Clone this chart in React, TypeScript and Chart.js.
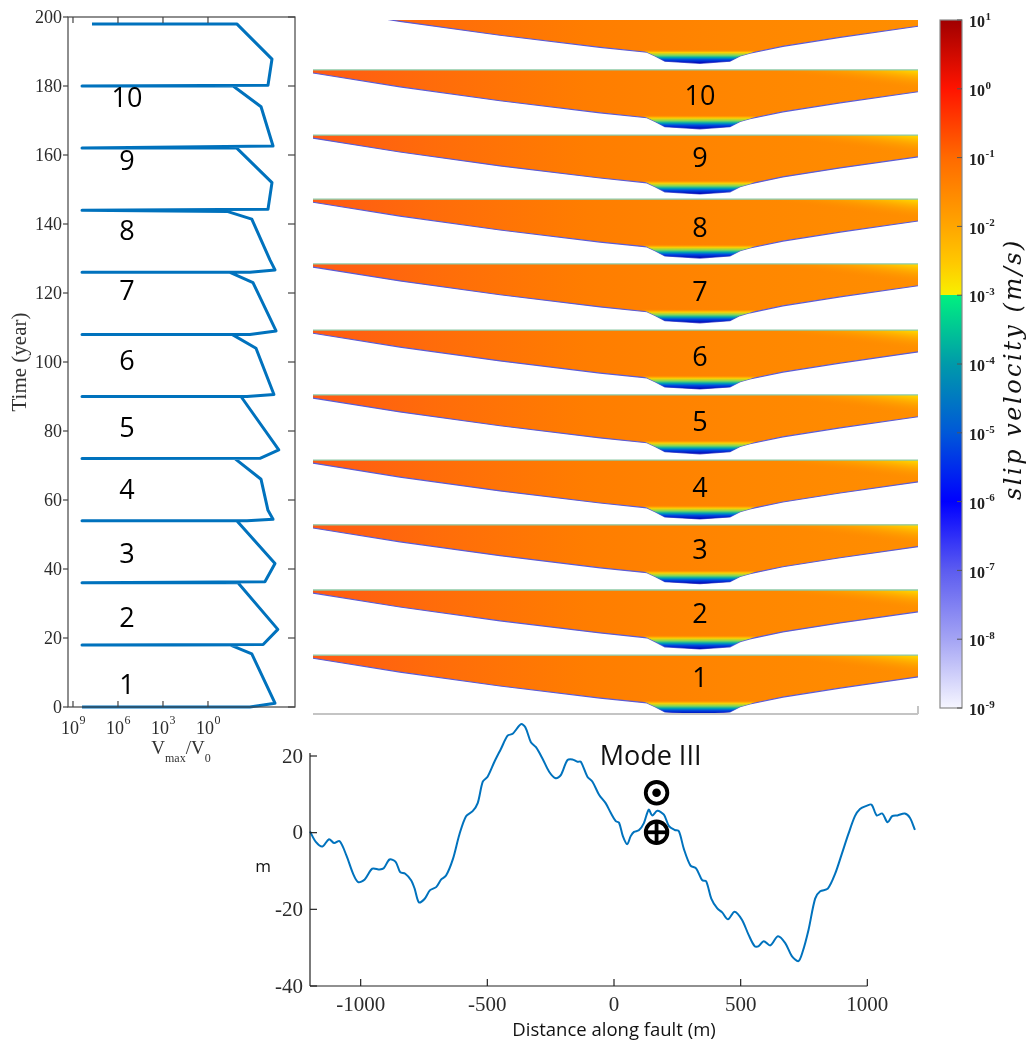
import { useEffect, useRef } from 'react';
import { Chart, registerables } from 'chart.js';

Chart.register(...registerables);

// ---------- left panel: maximum slip rate through the cycles ----------
const vmaxYears = [
  0, 0, 1.1, 15.4, 18, 18, 18.1, 22.5, 36, 36, 36.3, 41.6, 54, 54, 54, 54.4, 57, 66, 72, 72,
  72.1, 74.5, 90, 90, 90, 90.6, 104, 108, 108, 108, 109, 123, 126, 126, 126, 126.7, 129.6,
  141.4, 143.6, 144, 144.3, 152, 162, 162, 162.6, 174, 180, 180, 180.2, 187.8, 198, 198,
];
const vmaxRatio = [
  2.5e8, 1.6e-3, 3.4e-5, 1.2e-3, 3.4e-2, 2.5e8, 2.1e-4, 2.2e-5, 1.0e-2, 2.5e8, 1.6e-4, 3.4e-5,
  1.2e-2, 2.5e8, 2.5e-3, 4.6e-5, 1.0e-4, 2.9e-4, 1.6e-2, 2.5e8, 3.4e-4, 1.9e-5, 6.3e-3, 2.5e8,
  2.5e-3, 4.0e-5, 6.3e-4, 2.5e-2, 2.5e8, 1.6e-3, 2.9e-5, 1.0e-3, 3.4e-2, 2.5e8, 1.6e-3, 3.4e-5,
  7.4e-5, 1.2e-3, 4.7e-2, 2.5e8, 1.0e-4, 5.4e-5, 1.2e-2, 2.5e8, 4.6e-5, 2.9e-4, 2.1e-2, 2.5e8,
  1.0e-4, 5.4e-5, 1.2e-2, 5.4e7,
];
const timeTicks = [0, 20, 40, 60, 80, 100, 120, 140, 160, 180, 200];
const vmaxTickExponents = [9, 6, 3, 0];
const cycleNames = ['1', '2', '3', '4', '5', '6', '7', '8', '9', '10'];
const cycleLabelYears = [5.9, 25.5, 44, 62.4, 80.6, 100, 120.3, 137.5, 158, 176];
const cycleLabelRatio = 2.5e5;

// ---------- middle panel: slip velocity snapshots along the fault ----------
const frontX = [-1200, -855, -458, -61, 125, 157, 196, 335, 454, 494, 533, 664, 891, 1200];
const frontDepth = [0.9, 4.9, 8.9, 12.4, 13.8, 14.9, 16.4, 17.0, 16.4, 14.9, 14.1, 12.1, 9.5, 6.3];
const lensX = [100, 560, 533, 494, 454, 335, 196, 157, 125];
const lensDepth = [13.0, 13.3, 14.1, 14.9, 16.4, 17.0, 16.4, 14.9, 13.8];
const glowX = [560, 1200, 1200];
const glowDepth = [0, 0, 6.0];
const cycleTop = [16.7, 35.5, 54.3, 73.0, 91.8, 110.5, 129.6, 148.3, 166.8, 185.6, 204.5];
const snapshotLabelYears = [9.8, 28.2, 46.6, 64.7, 83.6, 102.3, 121, 139.7, 159.8, 177.6];
const snapshotLabelX = 335;

// ---------- colour bar: slip velocity (m/s) ----------
const velocityTickExponents = [1, 0, -1, -2, -3, -4, -5, -6, -7, -8, -9];
const colormapValues = [1e-9, 1e-8, 1e-7, 1e-6, 1e-5, 1e-4, 0.00099, 0.001, 0.003, 1e-2, 1e-1, 1, 10];
const colormapColors = [
  '#f6f6ff', '#a4a4f4', '#5c5cf0', '#0000ff', '#0058d8', '#009aaa', '#00f080',
  '#f8f000', '#ffc800', '#ffa600', '#ff6a00', '#ff1400', '#a00000',
];

// ---------- bottom panel: fault trace ----------
const faultDist = [
  -1200, -1177, -1151, -1125, -1105, -1083, -1056, -1030, -1010, -984, -954, -925, -909, -886,
  -862, -844, -824, -801, -787, -770, -748, -726, -702, -682, -663, -636, -610, -584, -558,
  -538, -518, -499, -472, -446, -420, -400, -367, -350, -328, -308, -282, -256, -230, -210,
  -184, -164, -144, -131, -105, -85, -59, -33, -13, 7, 20, 35, 52, 66, 79, 98, 118, 137, 151,
  171, 197, 217, 240, 256, 276, 302, 324, 348, 364, 384, 407, 427, 450, 476, 505, 531, 555,
  571, 591, 617, 647, 676, 702, 728, 744, 768, 794, 814, 844, 873, 899, 925, 951, 971, 997,
  1017, 1037, 1059, 1080, 1098, 1119, 1148, 1168, 1188,
];
const faultOffset = [
  0.3, -2.4, -3.6, -1.7, -2.7, -2.2, -6.0, -10.7, -12.9, -12.2, -9.4, -9.6, -9.3, -7.0,
  -7.6, -10.3, -10.7, -12.4, -14.6, -18.2, -17.3, -15.0, -14.2, -12.2, -11.2, -6.9, -0.4, 4.3, 5.6,
  7.7, 13.3, 14.6, 18.5, 21.9, 25.3, 25.8, 28.3, 27.5, 23.6, 22.3, 19.3, 15.9, 14.2, 15.0,
  18.9, 19.1, 18.5, 18.5, 14.6, 13.3, 9.9, 7.7, 5.2, 3.0, 2.6, -0.9, -3.0, -0.9, 0.2, 0.6, 2.5, 6.0, 4.5,
  5.7, 4.7, 1.7, 0.7, 0.4, -4.3, -8.6, -9.3, -12.4, -12.7, -17.2, -19.7, -20.8, -22.6, -20.6, -22.7, -26.6, -29.6,
  -29.6, -28.3, -29.4, -27.0, -28.8, -32.2, -33.5, -31.2, -25.3, -17.2, -15.3, -14.6, -10.7, -5.6, -0.4, 4.3, 6.2, 7.0,
  7.3, 4.5, 5.0, 2.7, 4.3, 4.5, 5.0, 3.9, 0.7,
];
const distTicks = [-1000, -500, 0, 500, 1000];
const offsetTicks = [20, 0, -20, -40];
const modeMarkX = 168;
const modeMarkOut = 10.4;
const modeMarkIn = 0.1;

const LINE_BLUE = '#0072bd';
const INK = '#2b2b2b';
const SERIF = '"Liberation Serif", "Times New Roman", serif';
const SANS = '"Open Sans", "Noto Sans", sans-serif';

function line(ctx: CanvasRenderingContext2D, x1: number, y1: number, x2: number, y2: number) {
  ctx.beginPath();
  ctx.moveTo(x1, y1);
  ctx.lineTo(x2, y2);
  ctx.stroke();
}

// "10" followed by a raised exponent
function drawPower(
  ctx: CanvasRenderingContext2D, exponent: string, x: number, y: number,
  baseFont: string, expFont: string, align: 'center' | 'left', rise: number,
) {
  ctx.font = baseFont;
  const wb = ctx.measureText('10').width;
  ctx.font = expFont;
  const we = ctx.measureText(exponent).width;
  const x0 = align === 'center' ? x - (wb + we) / 2 : x;
  ctx.textAlign = 'left';
  ctx.textBaseline = 'middle';
  ctx.font = baseFont;
  ctx.fillText('10', x0, y);
  ctx.font = expFont;
  ctx.fillText(exponent, x0 + wb + 0.5, y - rise);
}

const quiet = { legend: { display: false }, tooltip: { enabled: false } };

const leftDecor = {
  id: 'leftDecor',
  afterDraw(chart: any) {
    const { ctx, chartArea: a, scales } = chart;
    const { x, y } = scales;
    ctx.save();
    ctx.strokeStyle = '#444';
    ctx.lineWidth = 1.2;
    ctx.strokeRect(a.left, a.top, a.right - a.left, a.bottom - a.top);
    ctx.fillStyle = INK;
    for (const t of timeTicks) {
      const py = y.getPixelForValue(t);
      line(ctx, a.left - 5, py, a.left, py);
      line(ctx, a.right - 7, py, a.right, py);
      ctx.font = `18px ${SERIF}`;
      ctx.textAlign = 'right';
      ctx.textBaseline = 'middle';
      ctx.fillText(String(t), a.left - 6, py + 1);
    }
    for (const e of vmaxTickExponents) {
      const px = x.getPixelForValue(Math.pow(10, e));
      line(ctx, px, a.top, px, a.top + 6);
      line(ctx, px, a.bottom, px, a.bottom - 6);
      drawPower(ctx, String(e), px, 729, `18px ${SERIF}`, `12px ${SERIF}`, 'center', 8);
    }
    // axis titles
    ctx.save();
    ctx.translate(20, 362);
    ctx.rotate(-Math.PI / 2);
    ctx.font = `21px ${SERIF}`;
    ctx.textAlign = 'center';
    ctx.textBaseline = 'middle';
    ctx.fillStyle = '#333';
    ctx.fillText('Time (year)', 0, 0);
    ctx.restore();
    const parts: [string, string, number][] = [
      ['V', `19px ${SERIF}`, 0], ['max', `12px ${SERIF}`, 10], ['/V', `19px ${SERIF}`, 0], ['0', `12px ${SERIF}`, 10],
    ];
    let total = 0;
    for (const [s, f] of parts) { ctx.font = f; total += ctx.measureText(s).width; }
    let cx = 181 - total / 2;
    ctx.textAlign = 'left';
    ctx.textBaseline = 'middle';
    ctx.fillStyle = '#333';
    for (const [s, f, dy] of parts) {
      ctx.font = f;
      ctx.fillText(s, cx, 749 + dy);
      cx += ctx.measureText(s).width;
    }
    // cycle numbers
    ctx.fillStyle = '#000';
    ctx.font = `27px ${SANS}`;
    ctx.textAlign = 'center';
    ctx.textBaseline = 'middle';
    const lx = x.getPixelForValue(cycleLabelRatio);
    cycleNames.forEach((n, i) => ctx.fillText(n, lx, y.getPixelForValue(cycleLabelYears[i])));
    ctx.restore();
  },
};

const midDecor = {
  id: 'midDecor',
  afterDraw(chart: any) {
    const { ctx, chartArea: a, scales } = chart;
    const { x, y } = scales;
    ctx.save();
    ctx.strokeStyle = '#c4c4c4';
    ctx.lineWidth = 2;
    line(ctx, a.left, a.bottom + 1, a.right, a.bottom + 1);
    line(ctx, a.right, a.bottom + 1, a.right, a.bottom - 7);
    ctx.fillStyle = '#000';
    ctx.font = `27px ${SANS}`;
    ctx.textAlign = 'center';
    ctx.textBaseline = 'middle';
    const px = x.getPixelForValue(snapshotLabelX);
    cycleNames.forEach((n, i) => ctx.fillText(n, px, y.getPixelForValue(snapshotLabelYears[i])));
    ctx.restore();
  },
};

const barDecor = {
  id: 'barDecor',
  afterDraw(chart: any) {
    const { ctx, chartArea: a, scales } = chart;
    const { y } = scales;
    ctx.save();
    ctx.strokeStyle = '#8a8a8a';
    ctx.lineWidth = 1.2;
    ctx.strokeRect(a.left, a.top, a.right - a.left, a.bottom - a.top);
    ctx.strokeStyle = '#555';
    ctx.lineWidth = 1;
    ctx.fillStyle = '#222';
    for (const e of velocityTickExponents) {
      const py = y.getPixelForValue(Math.pow(10, e));
      line(ctx, a.right - 5, py, a.right, py);
      drawPower(ctx, String(e), a.right + 7, py + 3, `bold 16px ${SERIF}`, `bold 11px ${SERIF}`, 'left', 6);
    }
    ctx.translate(85, 369);
    ctx.rotate(-Math.PI / 2);
    ctx.font = `italic 24px "DejaVu Serif", serif`;
    (ctx as any).letterSpacing = '2.5px';
    ctx.textAlign = 'center';
    ctx.textBaseline = 'middle';
    ctx.fillStyle = '#111';
    ctx.fillText('slip velocity (m/s)', 0, 0);
    ctx.restore();
  },
};

const faultDecor = {
  id: 'faultDecor',
  afterDraw(chart: any) {
    const { ctx, chartArea: a, scales } = chart;
    const { x, y } = scales;
    ctx.save();
    ctx.strokeStyle = '#222';
    ctx.lineWidth = 1.2;
    const xEnd = x.getPixelForValue(distTicks[distTicks.length - 1]);
    line(ctx, a.left, a.top - 3, a.left, a.bottom);
    line(ctx, a.left, a.bottom, xEnd, a.bottom);
    ctx.fillStyle = INK;
    ctx.font = `21px ${SERIF}`;
    for (const d of distTicks) {
      const px = x.getPixelForValue(d);
      line(ctx, px, a.bottom, px, a.bottom - 7);
      ctx.textAlign = 'center';
      ctx.textBaseline = 'middle';
      ctx.fillText(String(d), px, a.bottom + 19);
    }
    for (const v of offsetTicks) {
      const py = y.getPixelForValue(v);
      line(ctx, a.left, py, a.left + 7, py);
      ctx.textAlign = 'right';
      ctx.textBaseline = 'middle';
      ctx.fillText(String(v), a.left - 7, py + 1);
    }
    ctx.fillStyle = '#111';
    ctx.textAlign = 'center';
    ctx.font = `17px ${SANS}`;
    ctx.fillText('m', 33, 152);
    ctx.font = `18.5px ${SANS}`;
    ctx.fillText('Distance along fault (m)', x.getPixelForValue(0), 316);
    ctx.font = `27px ${SANS}`;
    const mx = x.getPixelForValue(modeMarkX);
    ctx.fillText('Mode III', mx - 6, 42);
    // out-of-plane and into-plane slip symbols
    ctx.strokeStyle = '#000';
    ctx.fillStyle = '#000';
    ctx.lineWidth = 3.8;
    const yo = y.getPixelForValue(modeMarkOut);
    ctx.beginPath();
    ctx.arc(mx, yo, 10.8, 0, Math.PI * 2);
    ctx.stroke();
    ctx.beginPath();
    ctx.arc(mx, yo, 4.3, 0, Math.PI * 2);
    ctx.fill();
    const yi = y.getPixelForValue(modeMarkIn);
    ctx.beginPath();
    ctx.arc(mx, yi, 10.8, 0, Math.PI * 2);
    ctx.stroke();
    line(ctx, mx - 10.8, yi, mx + 10.8, yi);
    line(ctx, mx, yi - 10.8, mx, yi + 10.8);
    ctx.restore();
  },
};

function bandFill(c: any) {
  const { chart } = c;
  const a = chart.chartArea;
  if (!a) return '#ff8000';
  const g = chart.ctx.createLinearGradient(a.left, 0, a.right, 0);
  g.addColorStop(0, '#ff5a14');
  g.addColorStop(0.2, '#ff6c0a');
  g.addColorStop(0.45, '#ff7d00');
  g.addColorStop(0.7, '#ff8600');
  g.addColorStop(1, '#ff8e00');
  return g;
}

// yellowish sheen in the upper right corner of each snapshot, fading towards the wedge's long side
function glowFill(c: any) {
  const { chart, dataset } = c;
  const xs = chart.scales && chart.scales.x;
  const ys = chart.scales && chart.scales.y;
  if (!xs || !ys || !chart.chartArea) return 'rgba(255,200,0,0.3)';
  const top = dataset.cycleTop;
  const ax = xs.getPixelForValue(glowX[0]);
  const ay = ys.getPixelForValue(top - glowDepth[0]);
  const bx = xs.getPixelForValue(glowX[1]);
  const by = ys.getPixelForValue(top - glowDepth[1]);
  const cxp = xs.getPixelForValue(glowX[2]);
  const cyp = ys.getPixelForValue(top - glowDepth[2]);
  const dx = cxp - ax;
  const dy = cyp - ay;
  const t = ((bx - ax) * dx + (by - ay) * dy) / (dx * dx + dy * dy);
  const px = ax + t * dx;
  const py = ay + t * dy;
  const g = chart.ctx.createLinearGradient(px, py, bx, by);
  g.addColorStop(0, 'rgba(255,140,0,0)');
  g.addColorStop(0.5, 'rgba(255,185,0,0.45)');
  g.addColorStop(1, 'rgba(255,228,0,0.95)');
  return g;
}

function lensFill(c: any) {
  const { chart, dataset } = c;
  const ys = chart.scales && chart.scales.y;
  if (!ys || !chart.chartArea) return 'rgba(0,0,255,0.8)';
  const top = dataset.cycleTop;
  const y0 = ys.getPixelForValue(top - 13.0);
  const y1 = ys.getPixelForValue(top - 17.0);
  const g = chart.ctx.createLinearGradient(0, y0, 0, y1);
  g.addColorStop(0, 'rgba(255,140,0,0)');
  g.addColorStop(0.22, 'rgba(255,215,0,0.9)');
  g.addColorStop(0.42, '#7fd85a');
  g.addColorStop(0.58, '#00a8b0');
  g.addColorStop(0.75, '#0046e0');
  g.addColorStop(1, '#0000b4');
  return g;
}

const midClip = { left: 0, top: 0, right: 0, bottom: 4 };

export default function App() {
  const leftRef = useRef<HTMLCanvasElement>(null);
  const midRef = useRef<HTMLCanvasElement>(null);
  const barRef = useRef<HTMLCanvasElement>(null);
  const faultRef = useRef<HTMLCanvasElement>(null);

  useEffect(() => {
    const charts: Chart[] = [];

    charts.push(new Chart(leftRef.current as HTMLCanvasElement, {
      type: 'scatter',
      data: {
        datasets: [{
          data: vmaxYears.map((t, i) => ({ x: vmaxRatio[i], y: t })),
          showLine: true,
          borderColor: LINE_BLUE,
          borderWidth: 3,
          borderJoinStyle: 'round',
          pointRadius: 0,
          clip: false,
        } as any],
      },
      options: {
        responsive: false,
        animation: false,
        events: [],
        layout: { padding: { left: 68, top: 17, right: 15, bottom: 68 } },
        scales: {
          x: { type: 'logarithmic', reverse: true, min: 1.58e-6, max: 2.15e9, display: false },
          y: { type: 'linear', min: 0, max: 200, display: false },
        },
        plugins: quiet as any,
      },
      plugins: [leftDecor],
    }));

    // each snapshot: filled outline, sheen, then upper edge and slip front as lines
    const layers: any[] = [];
    cycleTop.forEach((top) => {
      const upper = frontX.map((x) => ({ x, y: top }));
      const lower = frontX.map((x, i) => ({ x, y: top - frontDepth[i] }));
      const common = { showLine: true, pointRadius: 0, clip: midClip };
      layers.push({
        ...common,
        data: [...upper, ...lower.slice().reverse()],
        fill: 'shape',
        backgroundColor: bandFill,
        borderWidth: 1,
        borderColor: 'rgba(0,0,0,0)',
        order: 5,
      });
      layers.push({
        ...common,
        data: glowX.map((x, i) => ({ x, y: top - glowDepth[i] })),
        cycleTop: top,
        fill: 'shape',
        backgroundColor: glowFill,
        borderWidth: 1,
        borderColor: 'rgba(0,0,0,0)',
        order: 4,
      });
      layers.push({
        ...common,
        data: upper,
        fill: false,
        borderWidth: 1.3,
        borderColor: '#8ccaa6',
        order: 2,
      });
      layers.push({
        ...common,
        data: lower,
        fill: false,
        borderWidth: 1.2,
        borderColor: '#5b5bd6',
        order: 2,
      });
    });
    const lenses = cycleTop.map((top) => ({
      data: lensX.map((x, i) => ({ x, y: top - lensDepth[i] })),
      cycleTop: top,
      showLine: true,
      fill: 'shape',
      backgroundColor: lensFill,
      borderWidth: 1,
      borderColor: 'rgba(0,0,0,0)',
      pointRadius: 0,
      order: 1,
      clip: midClip,
    }));

    charts.push(new Chart(midRef.current as HTMLCanvasElement, {
      type: 'scatter',
      data: { datasets: [...layers, ...lenses] as any },
      options: {
        responsive: false,
        animation: false,
        events: [],
        layout: { padding: { left: 13, top: 20, right: 12, bottom: 17 } },
        scales: {
          x: { type: 'linear', min: -1200, max: 1200, display: false },
          y: { type: 'linear', min: 0, max: 200, display: false },
        },
        plugins: quiet as any,
      },
      plugins: [midDecor],
    }));

    charts.push(new Chart(barRef.current as HTMLCanvasElement, {
      type: 'bar',
      data: {
        labels: ['slip velocity'],
        datasets: [{
          data: [[1e-9, 10]],
          backgroundColor: (c: any) => {
            const { chart } = c;
            const ys = chart.scales && chart.scales.y;
            if (!ys || !chart.chartArea) return '#ff8000';
            const yb = ys.getPixelForValue(1e-9);
            const yt = ys.getPixelForValue(10);
            const g = chart.ctx.createLinearGradient(0, yb, 0, yt);
            colormapValues.forEach((v, i) => {
              const f = (yb - ys.getPixelForValue(v)) / (yb - yt);
              g.addColorStop(Math.min(1, Math.max(0, f)), colormapColors[i]);
            });
            return g;
          },
          borderWidth: 0,
          barPercentage: 1,
          categoryPercentage: 1,
        } as any],
      },
      options: {
        responsive: false,
        animation: false,
        events: [],
        layout: { padding: { left: 10, top: 20, right: 73, bottom: 22 } },
        scales: {
          x: { display: false },
          y: { type: 'logarithmic', min: 1e-9, max: 10, display: false },
        },
        plugins: quiet as any,
      },
      plugins: [barDecor],
    }));

    charts.push(new Chart(faultRef.current as HTMLCanvasElement, {
      type: 'scatter',
      data: {
        datasets: [{
          data: faultDist.map((d, i) => ({ x: d, y: faultOffset[i] })),
          showLine: true,
          borderColor: LINE_BLUE,
          borderWidth: 2,
          pointRadius: 0,
          tension: 0.3,
          clip: false,
        } as any],
      },
      options: {
        responsive: false,
        animation: false,
        events: [],
        layout: { padding: { left: 80, top: 41, right: 32, bottom: 59 } },
        scales: {
          x: { type: 'linear', min: -1200, max: 1200, display: false },
          y: { type: 'linear', min: -40, max: 20, display: false },
        },
        plugins: quiet as any,
      },
      plugins: [faultDecor],
    }));

    return () => charts.forEach((c) => c.destroy());
  }, []);

  const abs = (left: number, top: number) => ({ position: 'absolute' as const, left, top });
  return (
    <div style={{ position: 'absolute', left: 0, top: 0, width: 1035, height: 1045, background: '#fff', overflow: 'hidden' }}>
      <canvas ref={leftRef} width={310} height={775} style={abs(0, 0)} />
      <canvas ref={midRef} width={630} height={730} style={abs(300, 0)} />
      <canvas ref={barRef} width={105} height={730} style={abs(930, 0)} />
      <canvas ref={faultRef} width={720} height={330} style={abs(230, 715)} />
    </div>
  );
}
